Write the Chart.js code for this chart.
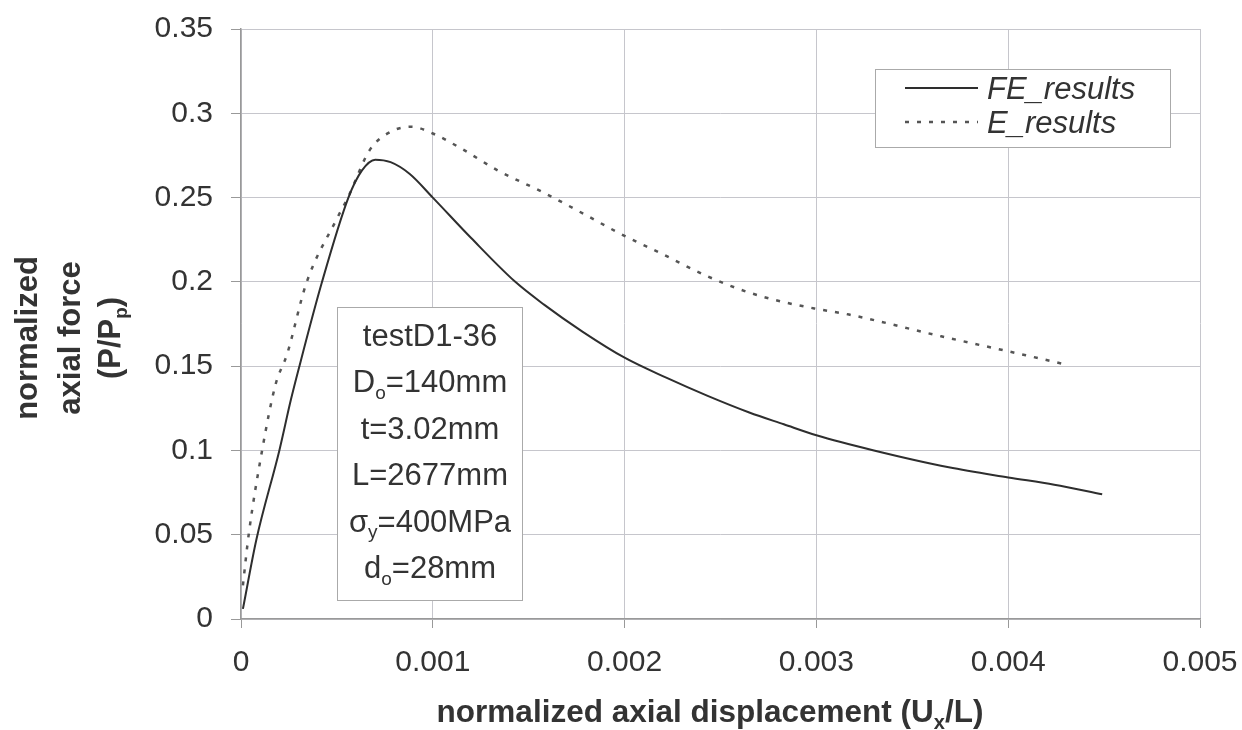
<!DOCTYPE html>
<html>
<head>
<meta charset="utf-8">
<script src="https://cdn.jsdelivr.net/npm/chart.js@4.4.0/dist/chart.umd.min.js"></script>
<style>
  html,body{margin:0;padding:0;background:#fff;}
  #wrap{width:1242px;height:730px;position:relative;}
</style>
</head>
<body>
<div id="wrap"><canvas id="c" width="1242" height="730"></canvas></div>
<script>
/* ---------- data ---------- */
const feX = [0.00001,0.00008,0.0002,0.00026,0.0003,0.00042,0.00056,0.00063,0.0007,0.00078,0.00088,0.001,0.0012,0.00143,0.00158,0.00178,0.002,0.00222,0.00243,0.00265,0.00283,0.003,0.0033,0.00369,0.004,0.00424,0.00449];
const feY = [0.006,0.047,0.1,0.13,0.148,0.199,0.25,0.266,0.2725,0.271,0.264,0.25,0.226,0.2,0.1865,0.1705,0.155,0.143,0.1325,0.1225,0.1155,0.109,0.1,0.09,0.084,0.0797,0.074];

const eX = [0.00001,0.00004,0.00011,0.00018,0.00024,0.00034,0.0005,0.00056,0.00067,0.00078,0.00089,0.001,0.00115,0.00134,0.00157,0.0018,0.00197,0.0022,0.00243,0.00264,0.00283,0.003,0.00317,0.00365,0.004,0.0043];
const eY = [0.02,0.05,0.1,0.139,0.157,0.199,0.2375,0.2506,0.278,0.289,0.292,0.288,0.279,0.266,0.2534,0.2395,0.229,0.2163,0.2034,0.194,0.188,0.184,0.1806,0.1677,0.1588,0.151];

const xTicks      = [0,0.001,0.002,0.003,0.004,0.005];
const xTickLabels = ["0","0.001","0.002","0.003","0.004","0.005"];
const yTicks      = [0,0.05,0.1,0.15,0.2,0.25,0.3,0.35];
const yTickLabels = ["0","0.05","0.1","0.15","0.2","0.25","0.3","0.35"];

const seriesNames = ["FE_results","E_results"];

/* annotation lines: [text, subscript, rest] */
const noteLines = [
  ["testD1-36","",""],
  ["D","o","=140mm"],
  ["t=3.02mm","",""],
  ["L=2677mm","",""],
  ["\u03c3","y","=400MPa"],
  ["d","o","=28mm"]
];

/* ---------- helpers ---------- */
const FONT = "'Liberation Sans', Arial, sans-serif";
const INK  = "#333";

// draw "main + sub + rest", centred / left / right at x
function richText(ctx, parts, x, y, size, weight, style, align){
  const f  = `${style||"normal"} ${weight||"normal"} ${size}px ${FONT}`;
  const fs = `${style||"normal"} ${weight||"normal"} ${Math.round(size*0.62)}px ${FONT}`;
  let w = 0;
  parts.forEach(p=>{ ctx.font = p.sub?fs:f; w += ctx.measureText(p.t).width; });
  let cx = align==="left" ? x : align==="right" ? x-w : x-w/2;
  ctx.textAlign = "left";
  ctx.textBaseline = "alphabetic";
  parts.forEach(p=>{
    ctx.font = p.sub?fs:f;
    ctx.fillText(p.t, cx, p.sub ? y+size*0.22 : y);
    cx += ctx.measureText(p.t).width;
  });
}

const decor = {
  id:"decor",
  afterDraw(chart){
    const ctx = chart.ctx;
    ctx.save();
    ctx.fillStyle = INK;

    // x axis title
    richText(ctx,[{t:"normalized axial displacement (U"},{t:"x",sub:true},{t:"/L)"}],
      710, 722, 31.5, "bold", "normal", "center");

    // y axis title, rotated
    const yl = [
      [{t:"normalized"}],
      [{t:"axial force"}],
      [{t:"(P/P"},{t:"p",sub:true},{t:")"}]
    ];
    const bx = [37, 80, 120];
    yl.forEach((parts,i)=>{
      ctx.save();
      ctx.translate(bx[i], 338);
      ctx.rotate(-Math.PI/2);
      richText(ctx, parts, 0, 0, 31, "bold", "normal", "center");
      ctx.restore();
    });

    // annotation box
    ctx.fillStyle = "#fff";
    ctx.strokeStyle = "#aaa";
    ctx.lineWidth = 1;
    ctx.fillRect(337,307,185,293);
    ctx.strokeRect(337.5,307.5,185,293);
    ctx.fillStyle = INK;
    noteLines.forEach((ln,i)=>{
      const parts = [{t:ln[0]}];
      if(ln[1]) parts.push({t:ln[1],sub:true});
      if(ln[2]) parts.push({t:ln[2]});
      richText(ctx, parts, 430, 346 + i*46.4, 31, "normal", "normal", "center");
    });

    // legend box
    ctx.fillStyle = "#fff";
    ctx.strokeStyle = "#aaa";
    ctx.fillRect(875,69,295,78);
    ctx.strokeRect(875.5,69.5,295,78);
    const ds = chart.data.datasets;
    [88,122].forEach((yy,i)=>{
      ctx.beginPath();
      ctx.strokeStyle = ds[i].borderColor;
      ctx.lineWidth = ds[i].borderWidth;
      ctx.setLineDash(ds[i].borderDash || []);
      ctx.moveTo(905,yy); ctx.lineTo(978,yy);
      ctx.stroke();
      ctx.setLineDash([]);
      ctx.fillStyle = INK;
      richText(ctx,[{t:seriesNames[i]}], 987, yy+11, 31, "normal", "italic", "left");
    });
    ctx.restore();
  }
};

/* ---------- chart ---------- */
new Chart(document.getElementById("c"),{
  type:"scatter",
  data:{
    datasets:[
      {label:seriesNames[0], data:feX.map((x,i)=>({x, y:feY[i]})),
       showLine:true, borderColor:"#2e2e2e", borderWidth:2, pointRadius:0,
       cubicInterpolationMode:"monotone"},
      {label:seriesNames[1], data:eX.map((x,i)=>({x, y:eY[i]})),
       showLine:true, borderColor:"#555", borderWidth:2.5, borderDash:[4,8], pointRadius:0,
       cubicInterpolationMode:"monotone"}
    ]
  },
  options:{
    responsive:false, animation:false,
    layout:{padding:{left:0, top:29, right:42, bottom:0}},
    plugins:{legend:{display:false}, tooltip:{enabled:false}},
    scales:{
      x:{
        type:"linear", min:0, max:0.005,
        afterBuildTicks:s=>{ s.ticks = xTicks.map(v=>({value:v})); },
        afterFit:s=>{ s.height = 111; s.paddingLeft = 0; s.paddingRight = 0; },
        ticks:{callback:(v,i)=>xTickLabels[i], color:INK, padding:17, maxRotation:0, autoSkip:false,
               font:{family:FONT, size:30}},
        grid:{color:"#c6c6cc", tickLength:9, tickColor:"#999"},
        border:{color:"#999", width:1.5}
      },
      y:{
        type:"linear", min:0, max:0.35,
        afterBuildTicks:s=>{ s.ticks = yTicks.map(v=>({value:v})); },
        afterFit:s=>{ s.width = 241; s.paddingTop = 0; s.paddingBottom = 0; },
        ticks:{callback:(v,i)=>yTickLabels[i], color:INK, padding:18, autoSkip:false,
               font:{family:FONT, size:30}},
        grid:{color:"#c6c6cc", tickLength:10, tickColor:"#999"},
        border:{color:"#999", width:1.5}
      }
    }
  },
  plugins:[decor]
});
</script>
</body>
</html>
